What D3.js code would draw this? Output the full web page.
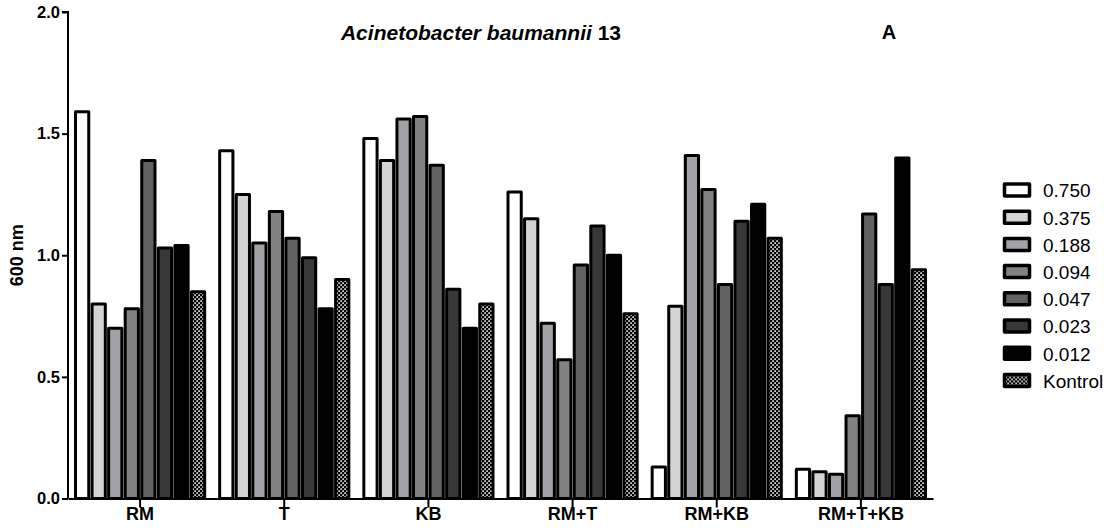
<!DOCTYPE html>
<html>
<head>
<meta charset="utf-8">
<script src="https://cdn.jsdelivr.net/npm/d3@7"></script>
<style>
  html, body { margin: 0; padding: 0; background: #fff; }
  svg { display: block; font-family: "Liberation Sans", Arial, sans-serif; }
</style>
</head>
<body>
<svg id="chart" width="1115" height="528"></svg>
<script>
// Treatment groups along the x axis
const categories = ["RM", "T", "KB", "RM+T", "RM+KB", "RM+T+KB"];

// Concentrations (one bar per concentration in each group) plus the control
const seriesNames = ["0.750", "0.375", "0.188", "0.094", "0.047", "0.023", "0.012", "Kontrol"];

// OD at 600 nm for each concentration, in category order
const c0750   = [1.59, 1.43, 1.48, 1.26, 0.13, 0.12];
const c0375   = [0.80, 1.25, 1.39, 1.15, 0.79, 0.11];
const c0188   = [0.70, 1.05, 1.56, 0.72, 1.41, 0.10];
const c0094   = [0.78, 1.18, 1.57, 0.57, 1.27, 0.34];
const c0047   = [1.39, 1.07, 1.37, 0.96, 0.88, 1.17];
const c0023   = [1.03, 0.99, 0.86, 1.12, 1.14, 0.88];
const c0012   = [1.04, 0.78, 0.70, 1.00, 1.21, 1.40];
const kontrol = [0.85, 0.90, 0.80, 0.76, 1.07, 0.94];

const yTicks = [0, 0.5, 1.0, 1.5, 2.0];

const seriesValues = [c0750, c0375, c0188, c0094, c0047, c0023, c0012, kontrol];
const fills = ["#ffffff", "#d4d4d4", "#a2a2a6", "#828282", "#626262", "#383838", "#000000", "url(#kontrolPattern)"];

const svg = d3.select("#chart");

// Fine dotted texture used for the control bars
const defs = svg.append("defs");
const pat = defs.append("pattern")
  .attr("id", "kontrolPattern")
  .attr("patternUnits", "userSpaceOnUse")
  .attr("width", 4).attr("height", 4);
pat.append("rect").attr("width", 4).attr("height", 4).attr("fill", "#000");
pat.append("rect").attr("x", 0.3).attr("y", 0.3).attr("width", 1.6).attr("height", 1.6).attr("fill", "#fff");
pat.append("rect").attr("x", 2.3).attr("y", 2.3).attr("width", 1.6).attr("height", 1.6).attr("fill", "#fff");

const plot = { left: 68, right: 933, top: 12, bottom: 498.5 };

const x0 = d3.scaleBand().domain(categories).range([plot.left, plot.right]).padding(0);
const groupInset = 7.5;
const x1 = d3.scaleBand().domain(seriesNames)
  .range([groupInset, x0.bandwidth() - groupInset])
  .paddingInner(0.2).paddingOuter(0);
const y = d3.scaleLinear().domain([0, 2]).range([plot.bottom, plot.top]);

// Bars
const rows = [];
categories.forEach((c, ci) => {
  seriesNames.forEach((s, si) => {
    rows.push({ cat: c, series: s, value: seriesValues[si][ci], fill: fills[si] });
  });
});

svg.append("g").selectAll("rect")
  .data(rows)
  .join("rect")
  .attr("x", d => x0(d.cat) + x1(d.series))
  .attr("y", d => y(d.value))
  .attr("width", x1.bandwidth())
  .attr("height", d => y(0) - y(d.value))
  .attr("fill", d => d.fill)
  .attr("stroke", "#000")
  .attr("stroke-width", 3)
  .attr("stroke-linejoin", "round");

// Y axis
const yAxis = svg.append("g")
  .attr("transform", `translate(${plot.left},0)`)
  .call(d3.axisLeft(y).tickValues(yTicks).tickFormat(d3.format(".1f")).tickSize(6).tickPadding(2));
yAxis.select(".domain").attr("stroke-width", 2).attr("d", `M-6,${y(2)}H0V${y(0)}`);
yAxis.selectAll(".tick line").attr("stroke-width", 2);
yAxis.selectAll(".tick text")
  .attr("font-size", 16.5).attr("font-weight", "bold").attr("fill", "#000")
  .attr("font-family", "Liberation Sans, Arial, sans-serif");

// X axis
const xAxis = svg.append("g")
  .attr("transform", `translate(0,${plot.bottom})`)
  .call(d3.axisBottom(x0).tickSize(9).tickSizeOuter(0).tickPadding(0));
xAxis.select(".domain").attr("stroke-width", 2);
xAxis.selectAll(".tick line").attr("stroke-width", 2);
xAxis.selectAll(".tick text")
  .attr("font-size", 18).attr("font-weight", "bold").attr("fill", "#000")
  .attr("font-family", "Liberation Sans, Arial, sans-serif");

// Y axis title
svg.append("text")
  .attr("transform", `translate(23,${(plot.top + plot.bottom) / 2}) rotate(-90)`)
  .attr("text-anchor", "middle")
  .attr("font-size", 18).attr("font-weight", "bold")
  .text("600 nm");

// Chart title
const title = svg.append("text")
  .attr("x", 481).attr("y", 40)
  .attr("text-anchor", "middle")
  .attr("font-size", 21).attr("font-weight", "bold");
title.append("tspan").attr("font-style", "italic").text("Acinetobacter baumannii");
title.append("tspan").text(" 13");

// Panel letter
svg.append("text")
  .attr("x", 889).attr("y", 39)
  .attr("text-anchor", "middle")
  .attr("font-size", 20).attr("font-weight", "bold")
  .text("A");

// Legend
const legend = svg.append("g").attr("transform", "translate(1003,184)");
const legendStep = 27.2;
seriesNames.forEach((s, i) => {
  const g = legend.append("g").attr("transform", `translate(0,${i * legendStep})`);
  g.append("rect")
    .attr("x", 1.5).attr("y", 0)
    .attr("width", 25).attr("height", 12)
    .attr("fill", fills[i])
    .attr("stroke", "#000").attr("stroke-width", 3.5)
    .attr("stroke-linejoin", "round");
  g.append("text")
    .attr("x", 40).attr("y", 13.3)
    .attr("font-size", 19)
    .text(s);
});
</script>
</body>
</html>
